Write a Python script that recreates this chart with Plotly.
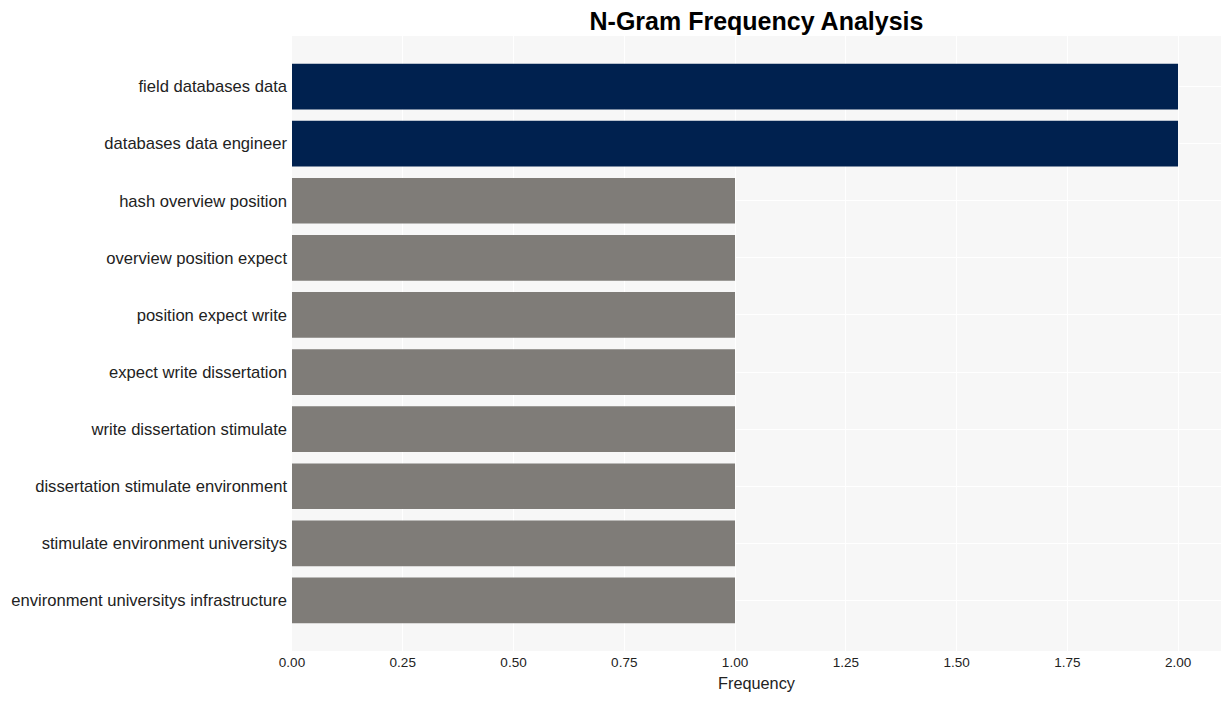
import plotly.graph_objects as go

ngrams = [
    "field databases data",
    "databases data engineer",
    "hash overview position",
    "overview position expect",
    "position expect write",
    "expect write dissertation",
    "write dissertation stimulate",
    "dissertation stimulate environment",
    "stimulate environment universitys",
    "environment universitys infrastructure",
]
frequency = [2, 2, 1, 1, 1, 1, 1, 1, 1, 1]
bar_colors = ["#00214f", "#00214f"] + ["#7f7c78"] * 8
tick_vals = [0, 0.25, 0.5, 0.75, 1.0, 1.25, 1.5, 1.75, 2.0]
tick_text = ["0.00", "0.25", "0.50", "0.75", "1.00", "1.25", "1.50", "1.75", "2.00"]

fig = go.Figure(go.Bar(
    x=frequency,
    y=ngrams,
    orientation="h",
    marker=dict(color=bar_colors, line=dict(width=0)),
    width=0.8,
))

# page body has an 8px margin, so the figure is sized and offset accordingly
fig.update_layout(
    width=1223, height=693,
    margin=dict(l=284, r=10, t=28, b=50, autoexpand=False),
    paper_bgcolor="white",
    plot_bgcolor="#f7f7f7",
    font=dict(family="Liberation Sans, Arial, sans-serif", color="#222"),
    title=dict(text="<b>N-Gram Frequency Analysis</b>", x=0.5, xref="paper", xanchor="center",
               y=1 - 13 / 693, yref="container", yanchor="middle",
               font=dict(size=25, color="black")),
    showlegend=False,
    bargap=0.2,
)
fig.update_xaxes(
    range=[0, 2.097], tickvals=tick_vals, ticktext=tick_text,
    showgrid=True, gridcolor="white", gridwidth=1, zeroline=False,
    tickfont=dict(size=13.5, color="#222"),
    title=dict(text="Frequency", font=dict(size=16.3, color="#222"), standoff=9),
    ticks="", ticklabelstandoff=1, automargin=False,
)
fig.update_yaxes(
    autorange=False, range=[9.885, -0.885],
    categoryorder="array", categoryarray=ngrams,
    showgrid=True, gridcolor="white", gridwidth=1,
    tickfont=dict(size=16.6, color="#222"), ticks="", ticklabelstandoff=4,
    automargin=False,
)

fig.write_html("out.html")
